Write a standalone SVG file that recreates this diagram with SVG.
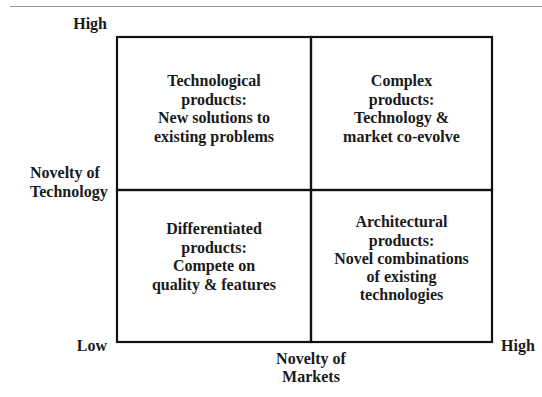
<svg xmlns="http://www.w3.org/2000/svg" width="542" height="397" viewBox="0 0 542 397">
<style>
text{font-family:"Liberation Serif","Times New Roman",serif;font-weight:bold;font-size:16px;fill:#1a1a1a}
.c{text-anchor:middle}
.r{text-anchor:end}
.q{fill:none;stroke:#111;stroke-width:2.2}
</style>
<rect width="542" height="397" fill="#fff"/>
<line x1="10" y1="6.5" x2="542" y2="6.5" stroke="#999" stroke-width="1"/>
<g id="q-technological">
<rect class="q" x="117" y="37" width="194" height="153"/>
<text class="c" x="214" y="86">Technological</text>
<text class="c" x="214" y="104.5">products:</text>
<text class="c" x="214" y="123">New solutions to</text>
<text class="c" x="214" y="141.5">existing problems</text>
</g>
<g id="q-complex">
<rect class="q" x="311" y="37" width="181" height="153"/>
<text class="c" x="401.5" y="86">Complex</text>
<text class="c" x="401.5" y="104.5">products:</text>
<text class="c" x="401.5" y="123">Technology &amp;</text>
<text class="c" x="401.5" y="141.5">market co-evolve</text>
</g>
<g id="q-differentiated">
<rect class="q" x="117" y="190" width="194" height="152"/>
<text class="c" x="214" y="234">Differentiated</text>
<text class="c" x="214" y="252.5">products:</text>
<text class="c" x="214" y="271">Compete on</text>
<text class="c" x="214" y="289.5">quality &amp; features</text>
</g>
<g id="q-architectural">
<rect class="q" x="311" y="190" width="181" height="152"/>
<text class="c" x="401.5" y="227">Architectural</text>
<text class="c" x="401.5" y="245.5">products:</text>
<text class="c" x="401.5" y="264">Novel combinations</text>
<text class="c" x="401.5" y="282">of existing</text>
<text class="c" x="401.5" y="300">technologies</text>
</g>
<g id="y-axis">
<text class="r" x="107" y="29">High</text>
<text x="30" y="178">Novelty of</text>
<text x="30" y="197">Technology</text>
<text class="r" x="107" y="351">Low</text>
</g>
<g id="x-axis">
<text x="501" y="351">High</text>
<text class="c" x="311" y="364">Novelty of</text>
<text class="c" x="311" y="382">Markets</text>
</g>
<g id="connectors"></g>
</svg>
